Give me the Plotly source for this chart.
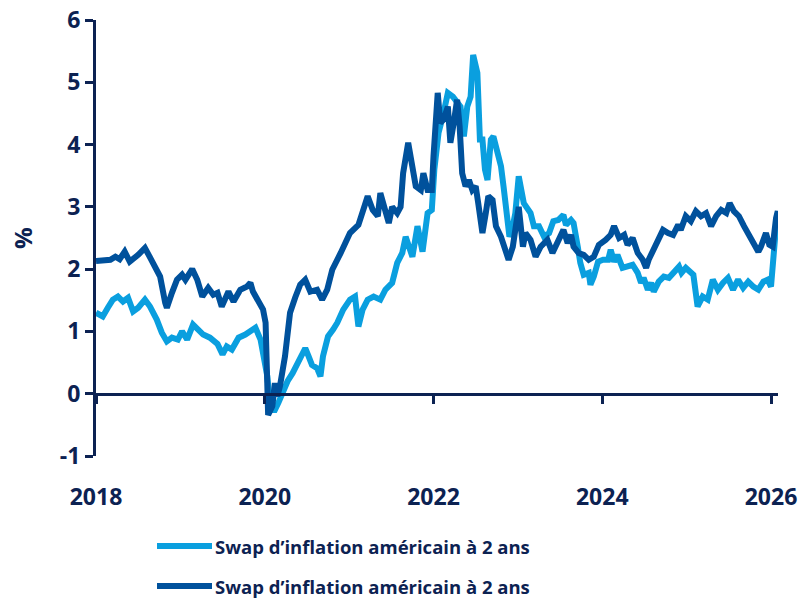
import plotly.graph_objects as go

# US 2-year inflation swap rates (%), time in decimal years
light_t = [2018.00, 2018.08, 2018.14, 2018.20, 2018.26, 2018.32, 2018.38, 2018.44, 2018.50, 2018.58,
           2018.64, 2018.72, 2018.78, 2018.84, 2018.90, 2018.97, 2019.02, 2019.08, 2019.15, 2019.21,
           2019.27, 2019.35, 2019.44, 2019.50, 2019.55, 2019.61, 2019.69, 2019.77, 2019.85, 2019.89,
           2019.95, 2019.98, 2020.03, 2020.07, 2020.12, 2020.16, 2020.21, 2020.27, 2020.33, 2020.39,
           2020.45, 2020.48, 2020.52, 2020.56, 2020.62, 2020.66, 2020.69, 2020.75, 2020.81, 2020.86,
           2020.93, 2021.01, 2021.07, 2021.11, 2021.16, 2021.22, 2021.29, 2021.37, 2021.43, 2021.51,
           2021.57, 2021.63, 2021.67, 2021.70, 2021.75, 2021.81, 2021.87, 2021.93, 2021.98, 2022.01,
           2022.06, 2022.11, 2022.17, 2022.23, 2022.26, 2022.32, 2022.36, 2022.40, 2022.44, 2022.47,
           2022.52, 2022.55, 2022.58, 2022.61, 2022.64, 2022.68, 2022.71, 2022.75, 2022.80, 2022.83,
           2022.88, 2022.90, 2022.94, 2022.97, 2023.01, 2023.03, 2023.07, 2023.10, 2023.15, 2023.19,
           2023.25, 2023.31, 2023.37, 2023.42, 2023.48, 2023.54, 2023.57, 2023.63, 2023.66, 2023.71,
           2023.74, 2023.78, 2023.84, 2023.86, 2023.90, 2023.95, 2024.01, 2024.07, 2024.10, 2024.14,
           2024.18, 2024.24, 2024.30, 2024.36, 2024.42, 2024.46, 2024.49, 2024.54, 2024.58, 2024.61,
           2024.67, 2024.73, 2024.79, 2024.85, 2024.91, 2024.94, 2024.99, 2025.08, 2025.11, 2025.13,
           2025.19, 2025.25, 2025.31, 2025.37, 2025.43, 2025.49, 2025.55, 2025.61, 2025.67, 2025.73,
           2025.79, 2025.85, 2025.91, 2025.96, 2026.00, 2026.04, 2026.06, 2026.09]
light_v = [1.30, 1.24, 1.38, 1.51, 1.56, 1.48, 1.54, 1.32, 1.38, 1.51,
           1.40, 1.19, 0.98, 0.84, 0.90, 0.87, 1.00, 0.87, 1.11, 1.03,
           0.95, 0.90, 0.80, 0.63, 0.76, 0.71, 0.90, 0.95, 1.03, 1.06,
           0.87, 0.60, 0.28, -0.26, -0.26, -0.15, 0.01, 0.20, 0.33, 0.49,
           0.62, 0.73, 0.60, 0.46, 0.41, 0.28, 0.60, 0.92, 1.03, 1.14,
           1.35, 1.51, 1.56, 1.08, 1.35, 1.51, 1.56, 1.51, 1.67, 1.78,
           2.10, 2.26, 2.52, 2.42, 2.20, 2.69, 2.28, 2.90, 2.95, 3.60,
           4.19, 4.45, 4.83, 4.77, 4.72, 4.61, 4.13, 4.61, 4.77, 5.44,
           5.15, 4.08, 4.08, 3.60, 3.43, 4.08, 4.13, 3.87, 3.65, 3.33,
           2.85, 2.52, 2.69, 2.90, 3.49, 3.38, 3.06, 3.00, 2.90, 2.69,
           2.69, 2.52, 2.58, 2.77, 2.79, 2.87, 2.71, 2.79, 2.74, 2.36,
           2.10, 1.91, 1.94, 1.75, 1.88, 2.12, 2.15, 2.15, 2.31, 2.12,
           2.23, 2.02, 2.04, 2.07, 1.94, 1.78, 1.86, 1.67, 1.78, 1.64,
           1.80, 1.88, 1.86, 1.96, 2.04, 1.94, 2.02, 1.91, 1.56, 1.40,
           1.56, 1.51, 1.83, 1.67, 1.78, 1.86, 1.67, 1.83, 1.70, 1.80,
           1.72, 1.67, 1.80, 1.83, 1.72, 2.26, 2.69, 2.74]

dark_t = [2018.00, 2018.08, 2018.17, 2018.23, 2018.28, 2018.34, 2018.40, 2018.50, 2018.58, 2018.64,
          2018.70, 2018.76, 2018.82, 2018.84, 2018.90, 2018.96, 2019.02, 2019.06, 2019.14, 2019.20,
          2019.26, 2019.33, 2019.39, 2019.44, 2019.49, 2019.57, 2019.63, 2019.71, 2019.79, 2019.83,
          2019.86, 2019.92, 2019.98, 2020.01, 2020.03, 2020.04, 2020.09, 2020.12, 2020.15, 2020.18,
          2020.24, 2020.30, 2020.36, 2020.42, 2020.48, 2020.54, 2020.62, 2020.68, 2020.74, 2020.80,
          2020.90, 2021.01, 2021.11, 2021.17, 2021.22, 2021.28, 2021.34, 2021.37, 2021.43, 2021.47,
          2021.51, 2021.57, 2021.61, 2021.64, 2021.70, 2021.75, 2021.79, 2021.85, 2021.88, 2021.93,
          2021.98, 2022.00, 2022.05, 2022.08, 2022.12, 2022.17, 2022.20, 2022.24, 2022.28, 2022.31,
          2022.34, 2022.38, 2022.42, 2022.46, 2022.50, 2022.53, 2022.58, 2022.62, 2022.65, 2022.70,
          2022.74, 2022.80, 2022.85, 2022.89, 2022.94, 2022.97, 2023.01, 2023.06, 2023.09, 2023.15,
          2023.21, 2023.27, 2023.35, 2023.41, 2023.47, 2023.54, 2023.59, 2023.63, 2023.66, 2023.72,
          2023.78, 2023.84, 2023.90, 2023.96, 2024.04, 2024.10, 2024.14, 2024.20, 2024.26, 2024.30,
          2024.36, 2024.42, 2024.48, 2024.52, 2024.55, 2024.61, 2024.67, 2024.72, 2024.78, 2024.84,
          2024.90, 2024.93, 2024.99, 2025.05, 2025.11, 2025.17, 2025.23, 2025.29, 2025.35, 2025.41,
          2025.47, 2025.51, 2025.56, 2025.62, 2025.68, 2025.74, 2025.80, 2025.85, 2025.88, 2025.94,
          2025.98, 2026.02, 2026.06, 2026.08, 2026.09]
dark_v = [2.13, 2.13, 2.15, 2.20, 2.16, 2.28, 2.12, 2.23, 2.34, 2.19,
          2.04, 1.88, 1.46, 1.38, 1.62, 1.83, 1.91, 1.83, 2.00, 1.83,
          1.56, 1.70, 1.59, 1.62, 1.40, 1.64, 1.48, 1.67, 1.72, 1.78,
          1.64, 1.48, 1.35, 1.14, 0.50, -0.34, -0.20, 0.17, -0.04, 0.12,
          0.60, 1.30, 1.54, 1.75, 1.83, 1.64, 1.67, 1.51, 1.67, 1.99,
          2.26, 2.58, 2.71, 3.01, 3.17, 2.95, 2.85, 3.22, 2.95, 2.74,
          3.00, 2.90, 3.00, 3.54, 4.03, 3.65, 3.33, 3.27, 3.54, 3.27,
          3.27, 3.81, 4.83, 4.35, 4.40, 4.61, 4.03, 4.35, 4.72, 4.29,
          3.54, 3.33, 3.43, 3.27, 3.33, 3.06, 2.58, 2.90, 3.17, 3.11,
          2.69, 2.52, 2.31, 2.15, 2.36, 2.63, 3.00, 2.36, 2.58, 2.47,
          2.20, 2.36, 2.47, 2.26, 2.42, 2.63, 2.42, 2.55, 2.36, 2.26,
          2.23, 2.15, 2.20, 2.39, 2.47, 2.55, 2.69, 2.50, 2.55, 2.39,
          2.50, 2.26, 2.15, 2.02, 2.15, 2.31, 2.45, 2.63, 2.58, 2.55,
          2.71, 2.63, 2.85, 2.77, 2.93, 2.85, 2.90, 2.69, 2.85, 2.95,
          2.90, 3.06, 2.93, 2.85, 2.69, 2.55, 2.42, 2.28, 2.36, 2.58,
          2.39, 2.36, 2.82, 2.93, 2.82]

series_names = ["Swap d\u2019inflation américain à 2 ans",
                "Swap d\u2019inflation américain à 2 ans"]
year_ticks = [2018, 2020, 2022, 2024, 2026]
value_ticks = [-1, 0, 1, 2, 3, 4, 5, 6]

LIGHT = "#0a9fdf"
DARK = "#00519c"
NAVY = "#0c2252"
FONT = "Open Sans"

y_min, y_max = -1, 6
x_range = [2018, 2026.083]

fig = go.Figure()
fig.add_trace(go.Scatter(x=light_t, y=light_v, mode="lines", name=series_names[0],
                         line=dict(color=LIGHT, width=6), showlegend=False))
fig.add_trace(go.Scatter(x=dark_t, y=dark_v, mode="lines", name=series_names[1],
                         line=dict(color=DARK, width=6), showlegend=False))

zero_pos = (0 - y_min) / (y_max - y_min)

fig.update_layout(
    width=802, height=600,
    margin=dict(l=96, r=24, t=20, b=144, autoexpand=False),
    paper_bgcolor="white", plot_bgcolor="white",
    font=dict(family=FONT, color=NAVY),
    showlegend=False,
    # axis line drawn through zero, with tick marks only
    xaxis=dict(range=x_range, tickvals=year_ticks, showticklabels=False,
               anchor="free", position=zero_pos, automargin=False,
               showline=True, linecolor=NAVY, linewidth=3,
               ticks="outside", ticklen=8, tickwidth=3, tickcolor=NAVY,
               showgrid=False, zeroline=False),
    # year labels along the bottom
    xaxis2=dict(range=x_range, tickvals=year_ticks, ticktext=[str(v) for v in year_ticks],
                overlaying="x", anchor="y", side="bottom", automargin=False,
                showline=False, showgrid=False, zeroline=False,
                ticks="outside", ticklen=20, tickcolor="rgba(0,0,0,0)",
                tickfont=dict(family=FONT, size=23, color=NAVY, weight="bold")),
    yaxis=dict(range=[y_min, y_max], tickvals=value_ticks,
               ticktext=[str(v).replace("\u2212", "-") for v in value_ticks],
               automargin=False,
               showline=True, linecolor=NAVY, linewidth=3,
               ticks="outside", ticklen=8, tickwidth=3, tickcolor=NAVY,
               showgrid=False, zeroline=False,
               tickfont=dict(family=FONT, size=23, color=NAVY, weight="bold")),
)

# placeholder trace so the label axis is drawn
fig.add_trace(go.Scatter(x=[x_range[0]], y=[None], xaxis="x2", yaxis="y",
                         mode="lines", showlegend=False, hoverinfo="skip"))

fig.add_annotation(text="%", textangle=-90, xref="paper", yref="paper",
                   x=(22 - 96) / 682, y=0.5, xanchor="center", yanchor="middle",
                   showarrow=False, font=dict(family=FONT, size=24, color=NAVY, weight="bold"))

# legend keys below the chart
legend_rows = [(LIGHT, series_names[0], 546), (DARK, series_names[1], 586)]
for color, label, ypx in legend_rows:
    yp = (456 - ypx) / 436
    fig.add_shape(type="line", xref="paper", yref="paper",
                  x0=(157 - 96) / 682, x1=(212 - 96) / 682, y0=yp, y1=yp,
                  line=dict(color=color, width=6))
    fig.add_annotation(text=label, xref="paper", yref="paper",
                       x=(213 - 96) / 682, y=yp, xanchor="left", yanchor="middle",
                       showarrow=False,
                       font=dict(family=FONT, size=18.5, color=NAVY, weight="bold"))

fig.write_html("out.html")
